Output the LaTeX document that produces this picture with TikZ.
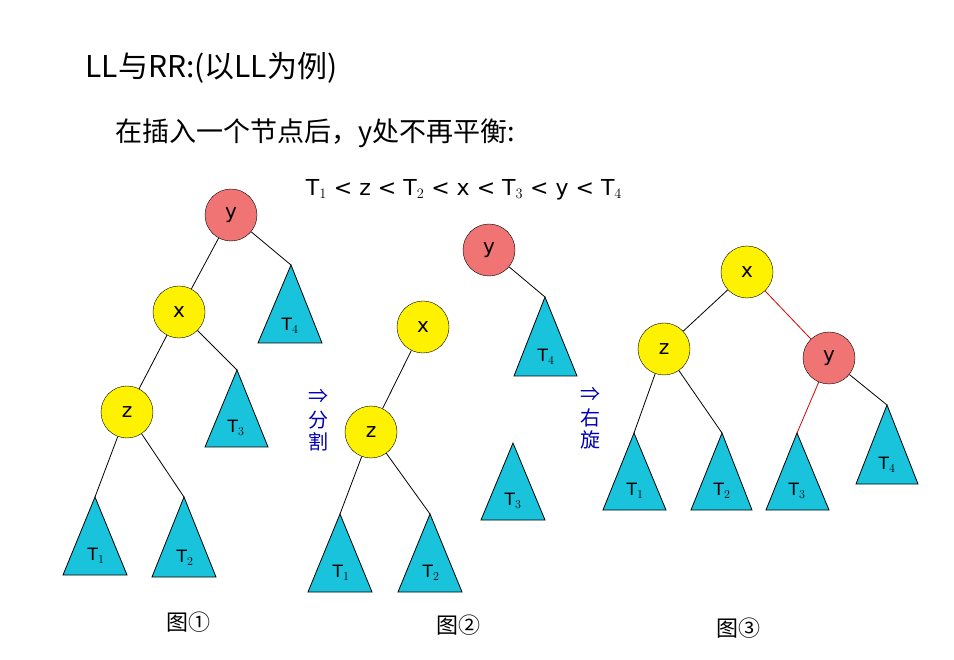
\documentclass[tikz,border=0pt]{standalone}
\usepackage{fontspec}
\newfontfamily\cjk{Noto Sans CJK SC}
\setmainfont{DejaVu Sans}
\begin{document}
\begin{tikzpicture}[x=1pt,y=-1pt,
  nd/.style={circle,draw,minimum size=52pt,inner sep=0pt,font=\fontsize{20}{20}\selectfont},
  yl/.style={nd,fill=yellow},
  tl/.style={font=\fontsize{17}{17}\selectfont},
  ed/.style={line width=0.8pt},
  red edge/.style={ed,red!85!black},
  txt/.style={font=\cjk\fontsize{30}{30}\selectfont,anchor=west},
  blu/.style={font=\cjk\fontsize{20}{22}\selectfont,text=blue!70!black,align=center}]
\useasboundingbox (0,0) rectangle (954,660);
\definecolor{tc}{HTML}{19C3DC}
\definecolor{rc}{HTML}{F07474}
\tikzset{rd/.style={nd,fill=rc},tri/.style={draw,fill=tc,line width=0.8pt}}
% texts
\node[txt] (t1) at (82,68) {LL与RR:(以LL为例)};
\node[txt,font=\cjk\fontsize{27}{27}\selectfont] (t2) at (112,133) {在插入一个节点后，y处不再平衡:};
\node[font=\fontsize{22}{22}\selectfont] (t3) at (464,190) {T$_1$ < z < T$_2$ < x < T$_3$ < y < T$_4$};
% fig 1
\node[rd] (y1) at (231,215) {y};
\node[yl] (x1) at (179,312) {x};
\node[yl] (z1) at (127,412) {z};
\coordinate (a14) at (291,265); \coordinate (a13) at (237,370);
\coordinate (a11) at (95,497); \coordinate (a12) at (184,497);
\draw[tri] (a14) -- (258,343) -- (322,343) -- cycle; \node[tl] at (290,326) {T$_4$};
\draw[tri] (a13) -- (205,447) -- (268,447) -- cycle; \node[tl] at (236,428) {T$_3$};
\draw[tri] (a11) -- (63,575) -- (127,575) -- cycle; \node[tl] at (96,556) {T$_1$};
\draw[tri] (a12) -- (152,577) -- (216,577) -- cycle; \node[tl] at (185,558) {T$_2$};
\draw[ed] (y1) -- (x1); \draw[ed] (y1) -- (a14);
\draw[ed] (x1) -- (z1); \draw[ed] (x1) -- (a13);
\draw[ed] (z1) -- (a11); \draw[ed] (z1) -- (a12);
% fig 2
\node[rd] (y2) at (489,250) {y};
\node[yl] (x2) at (423,327) {x};
\node[yl] (z2) at (371,432) {z};
\coordinate (a24) at (545,297); \coordinate (a21) at (340,514); \coordinate (a22) at (430,514);
\draw[tri] (a24) -- (514,376) -- (577,376) -- cycle; \node[tl] at (546,357) {T$_4$};
\draw[tri] (a21) -- (308,592) -- (372,592) -- cycle; \node[tl] at (341,573) {T$_1$};
\draw[tri] (a22) -- (398,592) -- (462,592) -- cycle; \node[tl] at (431,573) {T$_2$};
\draw[tri] (513,443) -- (481,520) -- (545,520) -- cycle; \node[tl] at (513,501) {T$_3$};
\draw[ed] (y2) -- (a24); \draw[ed] (x2) -- (z2);
\draw[ed] (z2) -- (a21); \draw[ed] (z2) -- (a22);
% fig 3
\node[yl] (x3) at (747,272) {x};
\node[yl] (z3) at (664,349) {z};
\node[rd] (y3) at (829,358) {y};
\coordinate (a31) at (634,433); \coordinate (a32) at (722,433);
\coordinate (a33) at (797,433); \coordinate (a34) at (887,405);
\draw[tri] (a31) -- (603,510) -- (666,510) -- cycle; \node[tl] at (635,491) {T$_1$};
\draw[tri] (a32) -- (691,510) -- (752,510) -- cycle; \node[tl] at (722,491) {T$_2$};
\draw[tri] (a33) -- (766,510) -- (829,510) -- cycle; \node[tl] at (797,491) {T$_3$};
\draw[tri] (a34) -- (856,484) -- (918,484) -- cycle; \node[tl] at (887,465) {T$_4$};
\draw[ed] (x3) -- (z3); \draw[red edge] (x3) -- (y3);
\draw[ed] (z3) -- (a31); \draw[ed] (z3) -- (a32);
\draw[red edge] (y3) -- (a33); \draw[ed] (y3) -- (a34);
% arrows
\node[blu] (b1) at (318,420) {⇒\\[2pt]分\\割};
\node[blu] (b2) at (590,418) {⇒\\[2pt]右\\旋};
% captions
\node[font=\cjk\fontsize{22}{22}\selectfont] (c1) at (188,622) {图①};
\node[font=\cjk\fontsize{22}{22}\selectfont] (c2) at (458,625) {图②};
\node[font=\cjk\fontsize{22}{22}\selectfont] (c3) at (738,628) {图③};
\end{tikzpicture}
\end{document}
